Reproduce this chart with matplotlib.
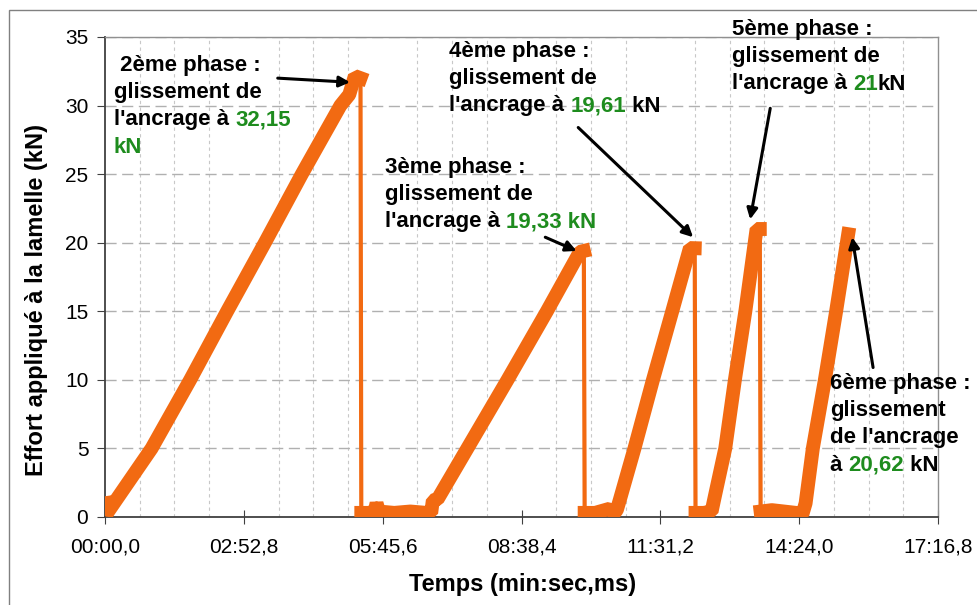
import numpy as np
import matplotlib
matplotlib.use("Agg")
import matplotlib.pyplot as plt
from matplotlib.patches import Rectangle
from matplotlib.offsetbox import TextArea, HPacker, VPacker, AnnotationBbox

plt.rcParams['font.family'] = ['Liberation Sans', 'DejaVu Sans']

# temps en secondes, effort en kN
temps_s = [0, 2, 4, 58, 106, 152, 199, 245, 293, 304, 311, 318,
           319, 330, 336, 338, 341, 360, 380, 400, 406, 408, 414,
           451, 501, 550, 591, 596,
           597, 610, 622, 628, 634, 637, 641,
           659, 682, 706, 728, 734,
           735, 745, 755, 759,
           772, 784, 797, 811, 815,
           816, 830, 845, 860, 868, 872,
           881, 896, 910, 925]
effort_kn = [1.0, 0.2, 0.4, 5, 10, 15, 20, 25, 30, 30.8, 32.15, 32.0,
             0.3, 0.3, 0.5, 1.0, 0.4, 0.3, 0.4, 0.3, 0.3, 1.2, 1.3,
             5, 10, 15, 19.33, 19.4,
             0.3, 0.3, 0.5, 0.6, 0.3, 0.5, 1.3,
             5, 10, 15, 19.61, 19.6,
             0.3, 0.3, 0.4, 1.5,
             5, 10, 15, 21.0, 21.0,
             0.4, 0.5, 0.4, 0.3, 0.2, 1.0,
             5, 10, 15, 20.62]

x_ticks_labels = ["00:00,0", "02:52,8", "05:45,6", "08:38,4",
                  "11:31,2", "14:24,0", "17:16,8"]
y_ticks = [0, 5, 10, 15, 20, 25, 30, 35]

ORANGE = '#F26A12'
GREEN = '#1E8C1E'
W, H = 978, 605

t = np.array(temps_s, dtype=float)
f = np.array(effort_kn, dtype=float)

fig = plt.figure(figsize=(W / 100, H / 100), dpi=100)
ax = fig.add_axes([105 / W, 1 - 517 / H, 833 / W, 480 / H])

# courbe fine (chutes) puis segments épais (montées et paliers)
ax.plot(t, f, color=ORANGE, lw=3, zorder=3)
cuts = np.where(np.diff(f) < -5)[0] + 1
for tt, ff in zip(np.split(t, cuts), np.split(f, cuts)):
    ax.plot(tt, ff, color=ORANGE, lw=10, solid_capstyle='projecting',
            solid_joinstyle='bevel', zorder=3)

step = 172.8
ax.set_xlim(0, 6 * step)
ax.set_ylim(0, 35)
ax.set_xticks([i * step for i in range(len(x_ticks_labels))])
ax.set_xticklabels(x_ticks_labels)
ax.set_xticks(np.arange(0, 6 * step + 1, step / 4), minor=True)
ax.set_yticks(y_ticks)
ax.tick_params(axis='x', which='major', direction='inout', length=10,
               labelsize=15, pad=10, color='#404040')
ax.tick_params(axis='x', which='minor', length=0)
ax.tick_params(axis='y', direction='out', length=6, labelsize=15,
               pad=6, color='#404040')

ax.grid(axis='y', which='major', linestyle=(0, (8, 4)), color='#b0b0b0', lw=1)
ax.grid(axis='x', which='minor', linestyle=(0, (3, 3)), color='#c8c8c8', lw=0.8)
ax.set_axisbelow(True)

for side in ['left', 'bottom']:
    ax.spines[side].set_color('#404040')
    ax.spines[side].set_linewidth(1.3)
for side in ['top', 'right']:
    ax.spines[side].set_color('#909090')
    ax.spines[side].set_linewidth(1)

fig.text(37 / W, 1 - 300 / H, "Effort appliqué à la lamelle (kN)",
         rotation=90, ha='center', va='center', fontsize=17, fontweight='bold')
fig.text(523 / W, 1 - 584 / H, "Temps (min:sec,ms)",
         ha='center', va='center', fontsize=17, fontweight='bold')

# cadre extérieur
fig.patches.append(Rectangle((9 / W, -0.01), 1.0, 1 - 10 / H + 0.01,
                             transform=fig.transFigure, fill=False,
                             edgecolor='#808080', lw=1))


def text_block(lines, x_px, y_px):
    rows = []
    for line in lines:
        parts = [TextArea(s, textprops=dict(color=c, fontsize=16, fontweight='bold'))
                 for s, c in line]
        rows.append(HPacker(children=parts, align='baseline', pad=0, sep=0))
    box = VPacker(children=rows, align='left', pad=0, sep=4.5)
    ab = AnnotationBbox(box, (x_px / W, 1 - y_px / H), xycoords='figure fraction',
                        box_alignment=(0, 1), frameon=False, pad=0)
    fig.add_artist(ab)


K = 'black'
text_block([[(" 2ème phase :", K)], [("glissement de", K)],
            [("l'ancrage à ", K), ("32,15", GREEN)], [("kN", GREEN)]], 114, 55)
text_block([[("3ème phase :", K)], [("glissement de", K)],
            [("l'ancrage à ", K), ("19,33 kN", GREEN)]], 385, 157)
text_block([[("4ème phase :", K)], [("glissement de", K)],
            [("l'ancrage à ", K), ("19,61", GREEN), (" kN", K)]], 449, 41)
text_block([[("5ème phase :", K)], [("glissement de", K)],
            [("l'ancrage à ", K), ("21", GREEN), ("kN", K)]], 732, 19)
text_block([[("6ème phase :", K)], [("glissement", K)],
            [("de l'ancrage", K)], [("à ", K), ("20,62", GREEN), (" kN", K)]], 830, 373)

arrow = dict(arrowstyle='-|>', color='black', lw=2.2, mutation_scale=16,
             shrinkA=0, shrinkB=0)
ax.annotate('', xy=(305, 31.7), xytext=(215, 32.0), arrowprops=arrow, zorder=4)
ax.annotate('', xy=(587, 19.4), xytext=(548, 20.4), arrowprops=arrow, zorder=4)
ax.annotate('', xy=(732, 20.4), xytext=(589, 28.4), arrowprops=arrow, zorder=4)
ax.annotate('', xy=(803, 21.7), xytext=(828, 29.8), arrowprops=arrow, zorder=4)
ax.annotate('', xy=(930, 20.4), xytext=(956, 10.9), arrowprops=arrow, zorder=4)

fig.savefig("out.png", dpi=100)
